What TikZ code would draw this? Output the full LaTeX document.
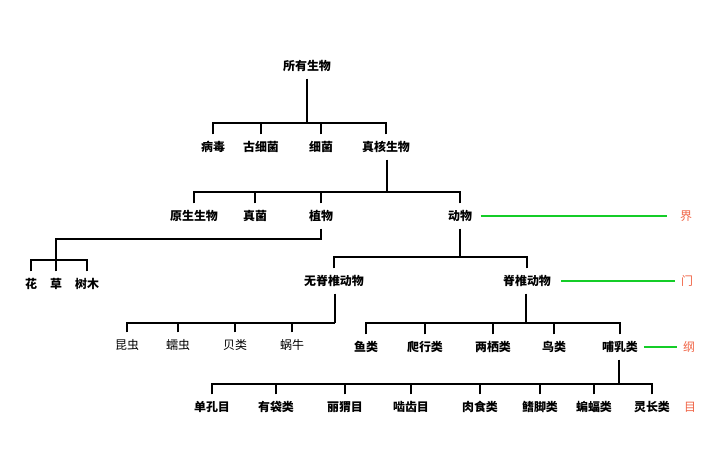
\documentclass[tikz,border=0pt]{standalone}
\usepackage{fontspec}
\setmainfont{Noto Sans CJK SC}
\usetikzlibrary{calc}

\definecolor{rankred}{RGB}{240,100,70}
\definecolor{guidegreen}{RGB}{20,205,40}

\begin{document}
\begin{tikzpicture}[
  x=0.025cm, y=-0.025cm,
  every node/.style={font=\fontsize{8.5}{10}\selectfont, text height=6.8pt, text depth=0.9pt, inner xsep=4pt, inner ysep=5pt},
  taxon/.style={font=\fontsize{8.5}{10}\selectfont\bfseries},
  rank/.style={text=rankred},
  branch/.style={line width=1.4pt},
  guide/.style={guidegreen, line width=1pt},
]
  \useasboundingbox (0,0) rectangle (703,455);

  % Racine et premier niveau
  \node[taxon] (root) at (307,66) {所有生物};
  \node[taxon] (virus) at (213,147) {病毒};
  \node[taxon] (archaea) at (261,147) {古细菌};
  \node[taxon] (bacteria) at (321,147) {细菌};
  \node[taxon] (eukaryote) at (386,147) {真核生物};

  % Eucaryotes
  \node[taxon] (protist) at (194,216) {原生生物};
  \node[taxon] (fungi) at (255,216) {真菌};
  \node[taxon] (plant) at (321,216) {植物};
  \node[taxon] (animal) at (460,216) {动物};

  % Plantes
  \node[taxon] (flower) at (31,284) {花};
  \node[taxon] (grass) at (56,284) {草};
  \node[taxon] (tree) at (87,284) {树木};

  % Animaux
  \node[taxon] (invert) at (334,281) {无脊椎动物};
  \node[taxon] (vert) at (527,281) {脊椎动物};

  \node (insect) at (127,345) {昆虫};
  \node (worm) at (178,345) {蠕虫};
  \node (shell) at (235,345) {贝类};
  \node (snail) at (292,345) {蜗牛};

  \node[taxon] (fish) at (366,347) {鱼类};
  \node[taxon] (reptile) at (425,347) {爬行类};
  \node[taxon] (amphib) at (493,347) {两栖类};
  \node[taxon] (bird) at (554,347) {鸟类};
  \node[taxon] (mammal) at (620,347) {哺乳类};

  % Mammiferes
  \node[taxon] (monotreme) at (212,407) {单孔目};
  \node[taxon] (marsupial) at (276,407) {有袋类};
  \node[taxon] (hedgehog) at (345,407) {丽猬目};
  \node[taxon] (rodent) at (411,407) {啮齿目};
  \node[taxon] (carnivore) at (480,407) {肉食类};
  \node[taxon] (pinniped) at (540,407) {鳍脚类};
  \node[taxon] (bat) at (594,407) {蝙蝠类};
  \node[taxon] (primate) at (652,407) {灵长类};

  % Rangs
  \node[rank] (kingdom) at (686,216) {界};
  \node[rank] (phylum) at (687,281) {门};
  \node[rank] (class) at (689,347) {纲};
  \node[rank] (order) at (690,407) {目};

  % Points de branchement
  \coordinate (j0) at (307,123);
  \coordinate (j1) at (387,192);
  \coordinate (j2) at (56,239);
  \coordinate (j2b) at (56,260);
  \coordinate (j3) at (460,257);
  \coordinate (j4) at (335,323);
  \coordinate (j5) at (526,323);
  \coordinate (j6) at (619,384);

  % Branches
  \draw[branch] (root.south) -- (j0);
  \foreach \c in {virus, archaea, bacteria, eukaryote}
    \draw[branch] (\c.north) |- (j0);
  \draw[branch] (j1 |- eukaryote.south) -- (j1);
  \foreach \c in {protist, fungi, plant, animal}
    \draw[branch] (\c.north) |- (j1);
  \draw[branch] (plant.south) |- (j2) -- (j2b);
  \foreach \c in {flower, grass, tree}
    \draw[branch] (\c.north) |- (j2b);
  \draw[branch] (animal.south) |- (j3);
  \foreach \c in {invert, vert}
    \draw[branch] (\c.north) |- (j3);
  \draw[branch] (j4 |- invert.south) -- (j4);
  \foreach \c in {insect, worm, shell, snail}
    \draw[branch] (\c.north) |- (j4);
  \draw[branch] (j5 |- vert.south) -- (j5);
  \foreach \c in {fish, reptile, amphib, bird, mammal}
    \draw[branch] (\c.north) |- (j5);
  \draw[branch] (j6 |- mammal.south) -- (j6);
  \foreach \c in {monotreme, marsupial, hedgehog, rodent, carnivore, pinniped, bat, primate}
    \draw[branch] (\c.north) |- (j6);

  % Lignes de rang
  \draw[guide, shorten <=2pt, shorten >=5pt] (animal.east) -- (kingdom.west);
  \draw[guide, shorten <=3pt] (vert.east) -- (phylum.west);
  \draw[guide] (mammal.east) -- (class.west);
\end{tikzpicture}
\end{document}
